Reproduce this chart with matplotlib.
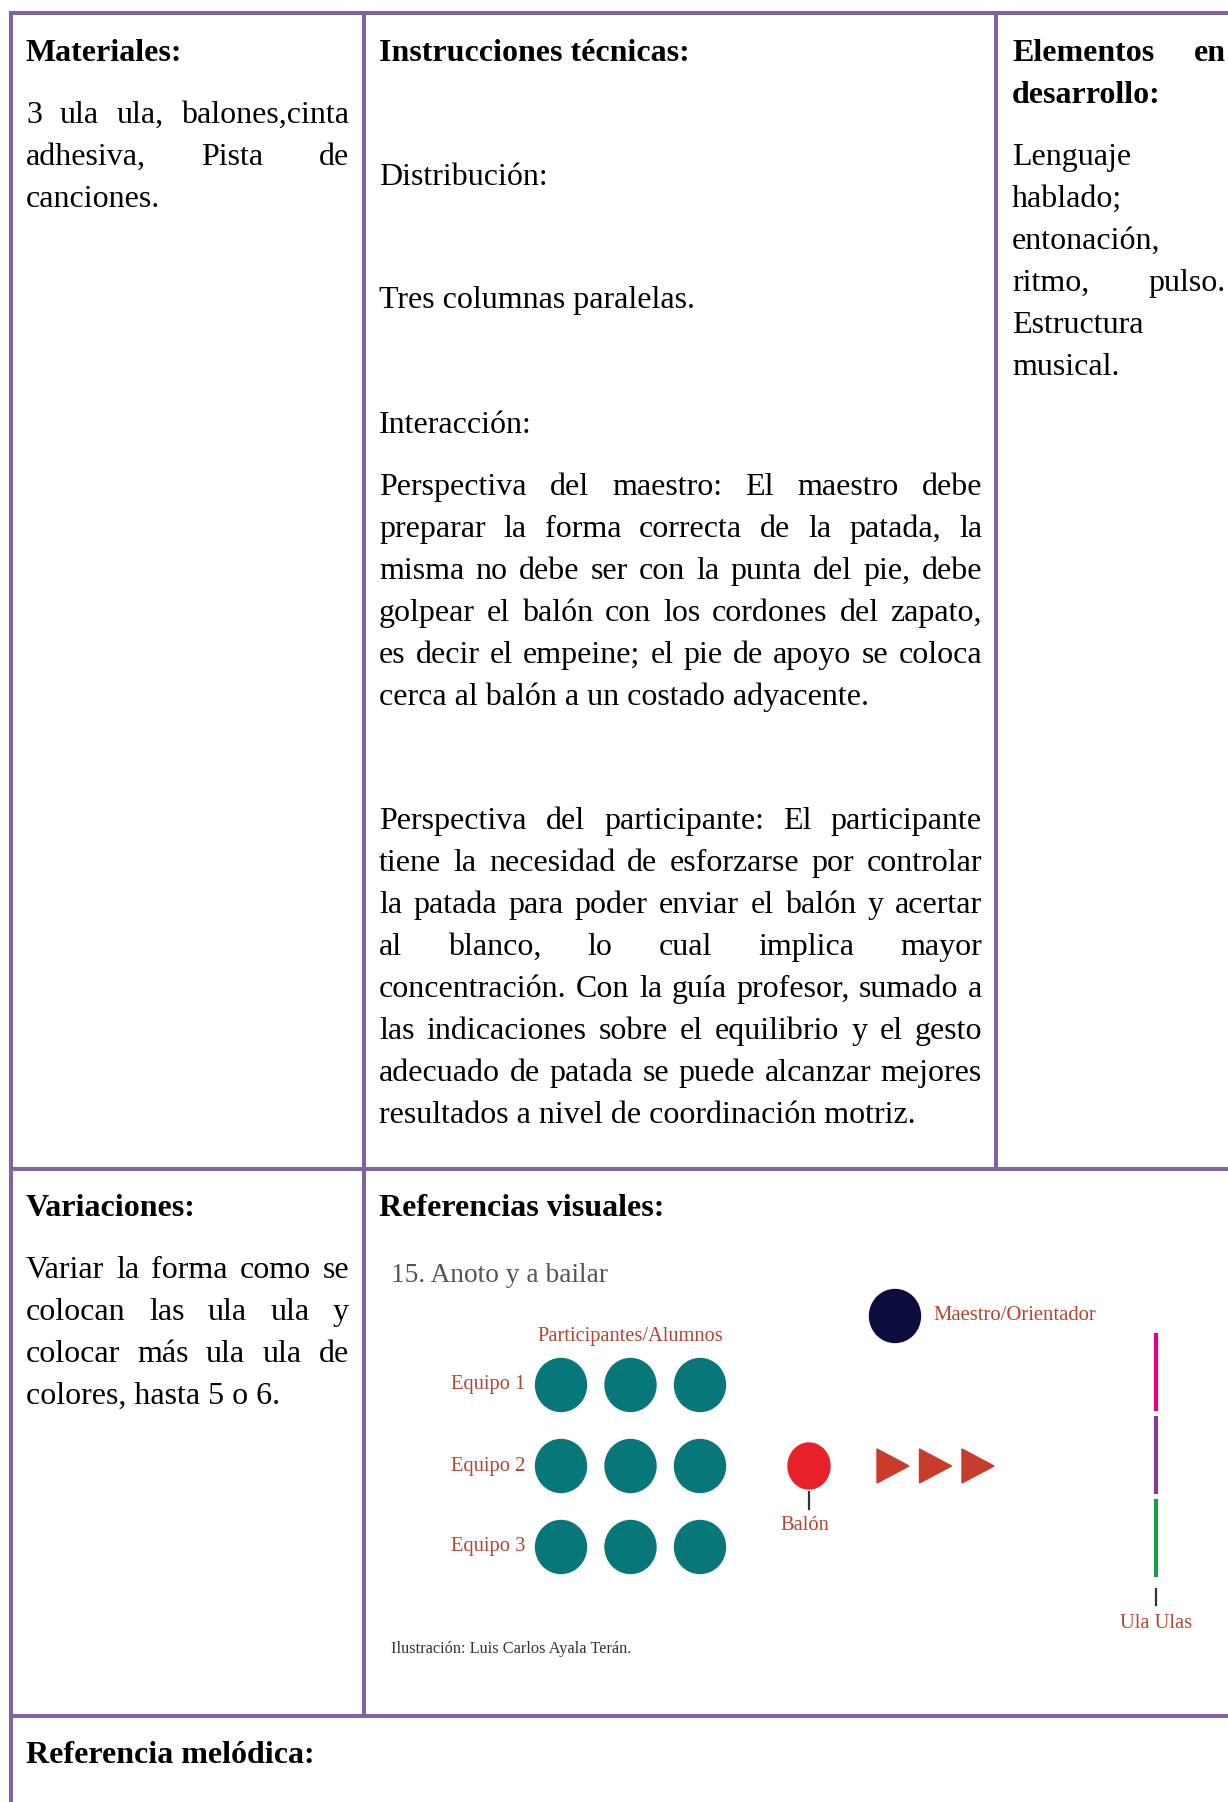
import matplotlib
matplotlib.use("Agg")
import matplotlib.pyplot as plt
from matplotlib.patches import Ellipse, Polygon

W, H = 1228, 1802
BORDER = "#8064a2"
INK = "#000000"
LABEL = "#b5432f"
SERIF = ["Liberation Serif", "DejaVu Serif"]

# --- text content -------------------------------------------------------
materiales = ["3 ula ula, balones,cinta", "adhesiva, Pista de", "canciones."]
distribucion = "Distribución:"
tres_columnas = "Tres columnas paralelas."
interaccion = "Interacción:"
perspectiva_maestro = [
    "Perspectiva del maestro: El maestro debe",
    "preparar la forma correcta de la patada, la",
    "misma no debe ser con la punta del pie, debe",
    "golpear el balón con los cordones del zapato,",
    "es decir el empeine; el pie de apoyo se coloca",
    "cerca al balón a un costado adyacente.",
]
perspectiva_participante = [
    "Perspectiva del participante: El participante",
    "tiene la necesidad de esforzarse por controlar",
    "la patada para poder enviar el balón y acertar",
    "al blanco, lo cual implica mayor",
    "concentración. Con la guía profesor, sumado a",
    "las indicaciones sobre el equilibrio y el gesto",
    "adecuado de patada se puede alcanzar mejores",
    "resultados a nivel de coordinación motriz.",
]
elementos_head = ["Elementos en", "desarrollo:"]
elementos = ["Lenguaje", "hablado;", "entonación,", "ritmo, pulso.",
             "Estructura", "musical."]
variaciones = ["Variar la forma como se", "colocan las ula ula y",
               "colocar más ula ula de", "colores, hasta 5 o 6."]

# --- illustration content ----------------------------------------------
teams = ["Equipo 1", "Equipo 2", "Equipo 3"]
players_per_team = 3
n_arrows = 3
ula_colors = ["#e6007e", "#7b3f9e", "#1a9c48"]

fig = plt.figure(figsize=(W / 100, H / 100), dpi=100)
ax = fig.add_axes([0, 0, 1, 1])
ax.set_xlim(0, W)
ax.set_ylim(H, 0)
ax.axis("off")
renderer = fig.canvas.get_renderer()

LINE = 42
FS = 23
DY = 2  # small baseline nudge


def put_line(text, x0, x1, y, justify, **kw):
    words = text.split()
    if not justify or len(words) == 1:
        ax.text(x0, y, text, ha="left", va="baseline", **kw)
        return
    arts = [ax.text(0, y, w, ha="left", va="baseline", **kw) for w in words]
    widths = [a.get_window_extent(renderer).width for a in arts]
    gap = (x1 - x0 - sum(widths)) / (len(words) - 1)
    x = x0
    for a, w in zip(arts, widths):
        a.set_x(x)
        x += w + gap


def paragraph(lines, x0, x1, y0, bold=False):
    for i, ln in enumerate(lines):
        put_line(ln, x0, x1, y0 + DY + i * LINE, i < len(lines) - 1,
                 fontsize=FS, family=SERIF, color=INK,
                 fontweight="bold" if bold else "normal")


# --- table borders --------------------------------------------------------
lw = 2.9
ax.plot([11, W], [13, 13], color=BORDER, lw=lw, solid_capstyle="butt")
ax.plot([11, W], [1169, 1169], color=BORDER, lw=lw, solid_capstyle="butt")
ax.plot([11, W], [1716, 1716], color=BORDER, lw=lw, solid_capstyle="butt")
ax.plot([11, 11], [11, H], color=BORDER, lw=lw, solid_capstyle="butt")
ax.plot([364, 364], [11, 1716], color=BORDER, lw=lw, solid_capstyle="butt")
ax.plot([996, 996], [11, 1169], color=BORDER, lw=lw, solid_capstyle="butt")

# --- column 1 -------------------------------------------------------------
C1, C1R = 26, 349
paragraph(["Materiales:"], C1, C1R, 59, bold=True)
paragraph(materiales, C1, C1R, 121)
paragraph(["Variaciones:"], C1, C1R, 1214, bold=True)
paragraph(variaciones, C1, C1R, 1276)
paragraph(["Referencia melódica:"], C1, C1R, 1761, bold=True)

# --- column 2 -------------------------------------------------------------
C2, C2R = 379, 982
paragraph(["Instrucciones técnicas:"], C2, C2R, 59, bold=True)
paragraph([distribucion], C2, C2R, 183)
paragraph([tres_columnas], C2, C2R, 306)
paragraph([interaccion], C2, C2R, 431)
paragraph(perspectiva_maestro, C2, C2R, 493)
paragraph(perspectiva_participante, C2, C2R, 827)
paragraph(["Referencias visuales:"], C2, C2R, 1214, bold=True)

# --- column 3 -------------------------------------------------------------
C3, C3R = 1012, 1226
paragraph(elementos_head, C3, C3R, 59, bold=True)
paragraph(elementos, C3, C3R, 163)

# --- illustration ---------------------------------------------------------
ax.text(391, 1275, "15. Anoto y a bailar", fontsize=19.7, family=SERIF,
        color="#555555", ha="left", va="center")

# teacher
ax.add_patch(Ellipse((895, 1316), 51, 53, color="#0d0d3d"))
ax.text(933, 1315, "Maestro/Orientador", fontsize=14.9, family=SERIF,
        color=LABEL, ha="left", va="center")

# participants
ax.text(630, 1337, "Participantes/Alumnos", fontsize=14.7, family=SERIF,
        color=LABEL, ha="center", va="center")
row_y0, row_dy = 1385, 81
col_x0, col_dx = 561, 69.5
for i, name in enumerate(teams):
    y = row_y0 + i * row_dy
    ax.text(525, y, name, fontsize=14.8, family=SERIF, color=LABEL,
            ha="right", va="center")
    for j in range(players_per_team):
        ax.add_patch(Ellipse((col_x0 + j * col_dx, y), 51, 53,
                             color="#08777a"))

# ball
ball_y = row_y0 + row_dy
ax.add_patch(Ellipse((809, ball_y), 42, 46, color="#e8202a"))
ax.plot([809, 809], [1492, 1509], color="#333333", lw=1.6)
ax.text(805, 1526, "Balón", fontsize=14.8, family=SERIF, color=LABEL,
        ha="center", va="center")

# arrows
for k in range(n_arrows):
    cx = 893 + k * 42.5
    ax.add_patch(Polygon([(cx - 16, ball_y - 17), (cx - 16, ball_y + 17),
                          (cx + 16, ball_y)], closed=True, color="#c83c2c"))

# ula ulas
ula_top, ula_len, ula_gap = 1333, 78, 5
for k, c in enumerate(ula_colors):
    y0 = ula_top + k * (ula_len + ula_gap)
    ax.plot([1156, 1156], [y0, y0 + ula_len], color=c, lw=3,
            solid_capstyle="butt")
ax.plot([1156, 1156], [1589, 1605], color="#333333", lw=1.6)
ax.text(1156, 1623, "Ula Ulas", fontsize=14.8, family=SERIF, color=LABEL,
        ha="center", va="center")

ax.text(391, 1649, "Ilustración: Luis Carlos Ayala Terán.", fontsize=11.8,
        family=SERIF, color="#333333", ha="left", va="center")

fig.savefig("out.png", dpi=100)
